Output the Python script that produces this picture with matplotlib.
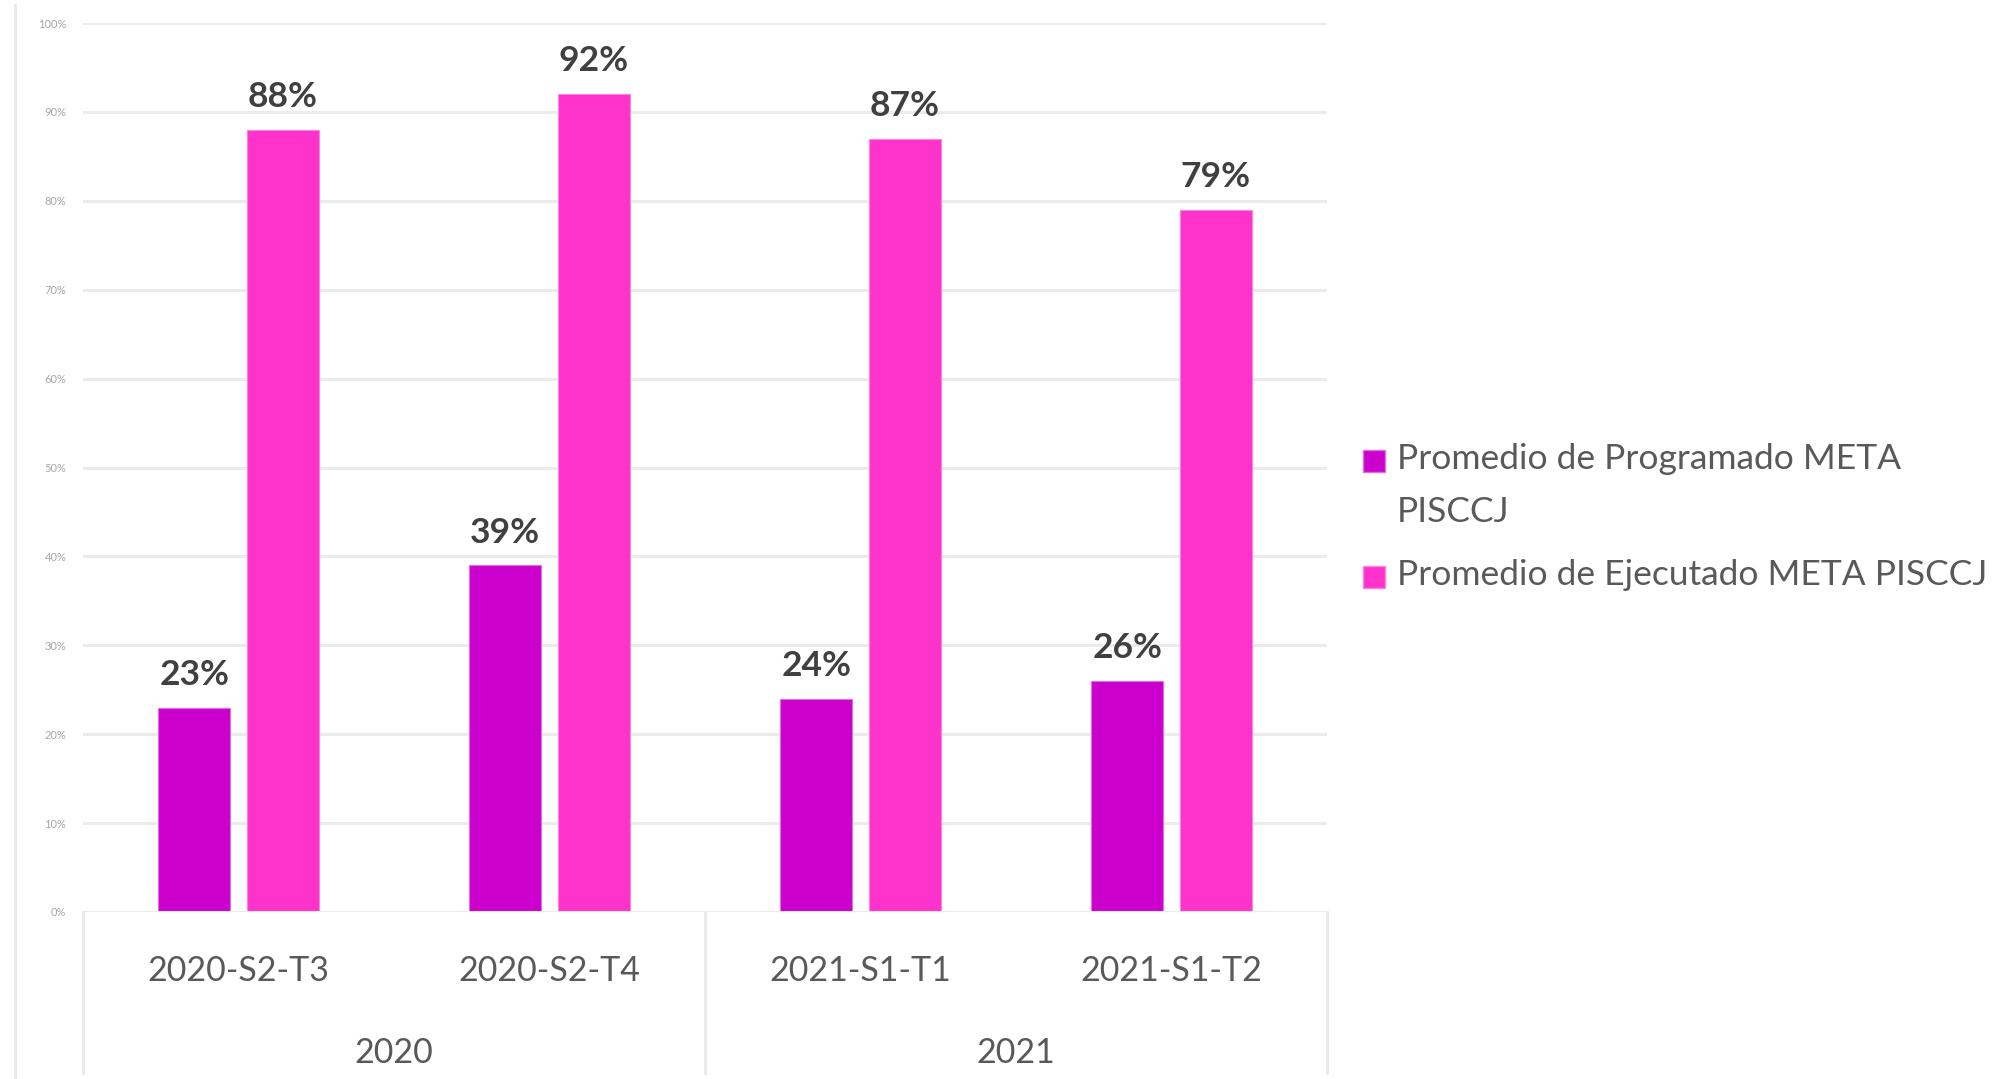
import matplotlib
matplotlib.use("Agg")
import matplotlib.pyplot as plt
from matplotlib.patches import Rectangle
import matplotlib.transforms as mtransforms

plt.rcParams['font.family'] = ['Lato', 'DejaVu Sans']

# ---- data ----
categories = ["2020-S2-T3", "2020-S2-T4", "2021-S1-T1", "2021-S1-T2"]
years = ["2020", "2021"]
year_spans = [(0, 1), (2, 3)]
programado = [23, 39, 24, 26]
ejecutado = [88, 92, 87, 79]
series_names = ["Promedio de Programado META\nPISCCJ", "Promedio de Ejecutado META PISCCJ"]
yticks = [0, 10, 20, 30, 40, 50, 60, 70, 80, 90, 100]

c_prog = "#CC00CC"
c_ejec = "#FF33CC"
e_prog = "#E070E0"
e_ejec = "#FF80E0"
grid_c = "#EBEBEB"
txt_c = "#595959"

W, H = 2010, 1079
fig = plt.figure(figsize=(W / 100, H / 100), dpi=100)
ax = fig.add_axes([83 / W, 1 - 912 / H, (1327 - 83) / W, (912 - 23) / H])

x = list(range(len(categories)))
bw = 0.232
off = 0.142
b1 = ax.bar([i - off for i in x], programado, bw, color=c_prog, zorder=3,
            edgecolor=e_prog, linewidth=0.8)
b2 = ax.bar([i + off for i in x], ejecutado, bw, color=c_ejec, zorder=3,
            edgecolor=e_ejec, linewidth=0.8)

for bars, vals in ((b1, programado), (b2, ejecutado)):
    for rect, v in zip(bars, vals):
        ax.annotate(f"{v}%", (rect.get_x() + rect.get_width() / 2, v),
                    xytext=(0, 12), textcoords="offset points",
                    ha="center", va="bottom", fontsize=25.5, fontweight="bold",
                    color="#404040")

ax.set_xlim(-0.5, len(categories) - 0.5)
ax.set_ylim(0, 100)
ax.set_yticks(yticks)
ax.set_yticklabels([f"{t}%" for t in yticks], fontsize=8, color="#A6A6A6")
ax.tick_params(axis="y", length=0, pad=12)
for t in yticks[1:]:
    ax.axhline(t, color=grid_c, lw=2.2, zorder=1)
ax.axhline(0, color=grid_c, lw=2.2, zorder=4)

ax.set_xticks(x)
ax.set_xticklabels(categories, fontsize=24.5, color=txt_c)
ax.tick_params(axis="x", length=0, pad=31)

for s in ax.spines.values():
    s.set_visible(False)

trans = mtransforms.blended_transform_factory(ax.transData, ax.transAxes)
bottom = -(1073 - 912) / (912 - 23)
for sep in (-0.5, 1.5, 3.5):
    ax.plot([sep, sep], [0, bottom], color=grid_c, lw=2.2, transform=trans,
            clip_on=False)
for yr, (a, b) in zip(years, year_spans):
    ax.text((a + b) / 2, -(1053 - 912) / (912 - 23), yr, transform=trans,
            ha="center", va="center", fontsize=24.5, color=txt_c)

# outer chart border (left)
fig.add_artist(plt.Line2D([15 / W, 15 / W], [0, 1 - 5 / H], color=grid_c,
                          lw=2.2, transform=fig.transFigure))

# legend (manual, squares aligned with first text line)
leg_rows = [461, 577]
sq = 22
for yc, name, fc, ec in zip(leg_rows, series_names, (c_prog, c_ejec), (e_prog, e_ejec)):
    fig.add_artist(Rectangle((1363 / W, 1 - (yc + sq / 2) / H), sq / W, sq / H,
                             facecolor=fc, edgecolor=ec, linewidth=1.0,
                             transform=fig.transFigure))
    fig.text(1397 / W, 1 - (yc - 18) / H, name, ha="left", va="top",
             fontsize=25.5, color=txt_c, linespacing=1.8)

fig.savefig("out.png", dpi=100, facecolor="white")
